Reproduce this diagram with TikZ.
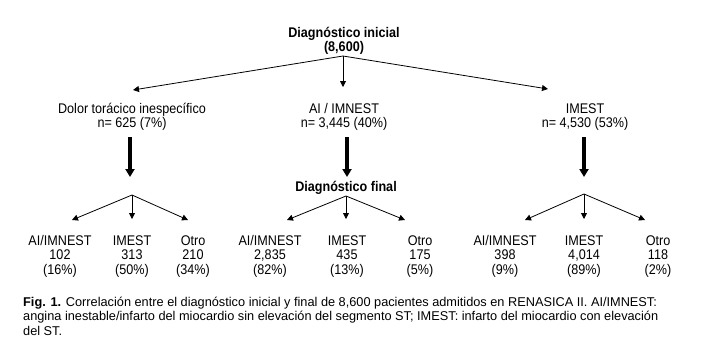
\documentclass[tikz,border=0pt]{standalone}
\usepackage{fontspec}
\setmainfont{Liberation Sans}
\newfontfamily\diafont[FakeStretch=0.9]{Liberation Sans}
\usetikzlibrary{arrows.meta}

\begin{document}
\begin{tikzpicture}[x=1pt,y=-1pt,>={Triangle[length=6pt,width=6pt]},
  lbl/.style={font=\diafont\fontsize{14}{14.5}\selectfont, align=center, inner sep=0pt, anchor=base},
  hdr/.style={lbl, font=\diafont\fontsize{14}{14.5}\selectfont\bfseries},
  branch/.style={->, line width=0.8pt},
  bigarrow/.style={-{Triangle[length=8pt,width=9pt]}, line width=3.5pt}]
  \useasboundingbox (0,0) rectangle (703,354);
  % initial diagnosis (base = last line)
  \node[hdr] (ini) at (344,51.5) {Diagnóstico inicial\\(8,600)};
  \node[lbl] (dolor) at (132,127.5) {Dolor torácico inespecífico\\n= 625 (7\%)};
  \node[lbl] (ai)    at (344,127.5) {AI / IMNEST\\n= 3,445 (40\%)};
  \node[lbl] (imest) at (585,127.5) {IMEST\\n= 4,530 (53\%)};
  \coordinate (f0) at (343,56);
  \coordinate (a1) at (133,90);
  \coordinate (a2) at (343,87);
  \coordinate (a3) at (548,89);
  \draw[branch] (f0) -- (a1);
  \draw[branch] (f0) -- (a2);
  \draw[branch] (f0) -- (a3);
  % thick arrows
  \coordinate (d1) at (130,137); \coordinate (e1) at (130,177);
  \coordinate (d2) at (347,137); \coordinate (e2) at (347,177);
  \coordinate (d3) at (584,137); \coordinate (e3) at (584,177);
  \draw[bigarrow] (d1) -- (e1);
  \draw[bigarrow] (d2) -- (e2);
  \draw[bigarrow] (d3) -- (e3);
  \node[hdr] (fin) at (346,191) {Diagnóstico final};
  % final diagnosis
  \coordinate (g1) at (132,195);
  \coordinate (g2) at (346,196);
  \coordinate (g3) at (584,194);
  \node[lbl] (ai1) at (60,274)  {AI/IMNEST\\102\\(16\%)};
  \node[lbl] (im1) at (132,274) {IMEST\\313\\(50\%)};
  \node[lbl] (ot1) at (193,274) {Otro\\210\\(34\%)};
  \node[lbl] (ai2) at (270,274) {AI/IMNEST\\2,835\\(82\%)};
  \node[lbl] (im2) at (347,274) {IMEST\\435\\(13\%)};
  \node[lbl] (ot2) at (420,274) {Otro\\175\\(5\%)};
  \node[lbl] (ai3) at (505,274) {AI/IMNEST\\398\\(9\%)};
  \node[lbl] (im3) at (584,274) {IMEST\\4,014\\(89\%)};
  \node[lbl] (ot3) at (658,274) {Otro\\118\\(2\%)};
  \draw[branch] (g1) -- (72,220);
  \draw[branch] (g1) -- (132,219);
  \draw[branch] (g1) -- (188,220);
  \draw[branch] (g2) -- (287,220);
  \draw[branch] (g2) -- (346,219);
  \draw[branch] (g2) -- (405,220);
  \draw[branch] (g3) -- (525,220);
  \draw[branch] (g3) -- (584,219);
  \draw[branch] (g3) -- (645,220);
  % caption
  \node[anchor=base west, align=left, inner sep=0pt, font=\fontsize{12.75}{14.5}\selectfont] (cap) at (23,335)
    {\textbf{Fig. 1.} Correlación entre el diagnóstico inicial y final de 8,600 pacientes admitidos en RENASICA II. AI/IMNEST:\\
     angina inestable/infarto del miocardio sin elevación del segmento ST; IMEST: infarto del miocardio con elevación\\
     del ST.};
\end{tikzpicture}
\end{document}
